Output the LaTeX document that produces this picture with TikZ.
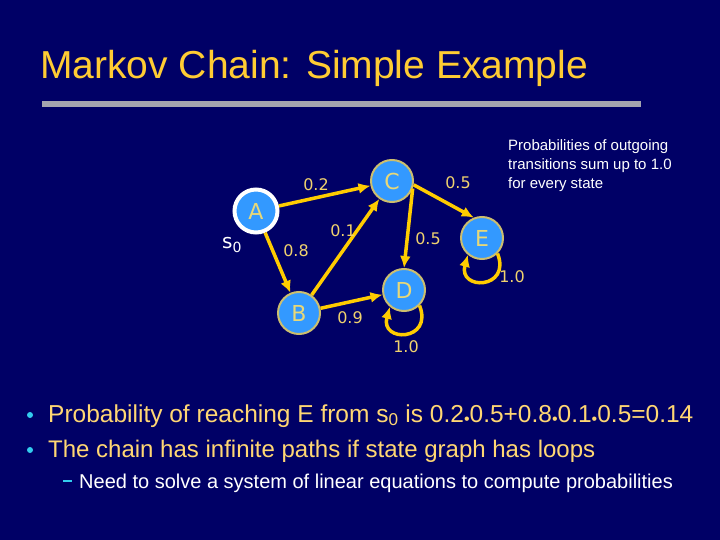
\documentclass[tikz,border=0pt]{standalone}
\usepackage{fontspec}
\setmainfont{Liberation Sans}
\newfontfamily\vfont{DejaVu Sans}
\usetikzlibrary{arrows.meta}
\definecolor{slidebg}{RGB}{0,0,102}
\definecolor{titlec}{RGB}{255,204,51}
\definecolor{barc}{RGB}{165,165,175}
\definecolor{bultxt}{RGB}{255,215,115}
\definecolor{dotc}{RGB}{51,204,238}
\definecolor{statefill}{RGB}{51,153,255}
\definecolor{statebd}{RGB}{204,190,110}
\definecolor{statetxt}{RGB}{232,216,120}
\definecolor{arrowc}{RGB}{255,204,0}
\definecolor{probtxt}{RGB}{240,210,110}
\tikzset{
  state/.style={circle,draw=statebd,fill=statefill,line width=2pt,minimum size=42pt,
    inner sep=0pt,text=statetxt,font=\vfont\fontsize{22}{22}\selectfont},
  trans/.style={-{Latex[length=12pt,width=11pt]},draw=arrowc,line width=3.5pt},
  prob/.style={text=probtxt,font=\vfont\fontsize{16}{16}\selectfont,inner sep=0pt}
}
\newcommand{\bdot}{\raisebox{-2pt}{\fontsize{16}{16}\selectfont•}}
\begin{document}
\begin{tikzpicture}[x=1pt,y=-1pt]
\fill[slidebg] (0,0) rectangle (720,540);
% title and bar
\node[anchor=base west,inner sep=0pt,text=titlec,font=\fontsize{39}{46}\selectfont] (title) at (40,79) {Markov Chain: Simple Example};
\fill[barc] (42,101) rectangle (641,107);
% states
\node[state] (C) at (392,181) {C};
\node[state] (E) at (482,238) {E};
\node[state] (D) at (404,290) {D};
\node[state] (B) at (299,313) {B};
\node[state,draw=white,line width=4pt,minimum size=43pt] (A) at (256,211) {A};
\node[text=white,font=\vfont\fontsize{20}{20}\selectfont,inner sep=0pt] (s0) at (232,245) {s\textsubscript{0}};
% transitions
\draw[trans] (A) -- (C);
\draw[trans] (A) -- (B);
\draw[trans] (B) -- (C);
\draw[trans] (B) -- (D);
\draw[trans] (C.-20) -- (D.north);
\draw[trans] (C.-10) -- (E.112);
\draw[trans] (D.-45) .. controls +(14,36) and +(-10,36) .. (D.-130);
\draw[trans] (E.-45) .. controls +(14,36) and +(-10,36) .. (E.-130);
% probabilities
\node[prob] (pAC) at (316,185) {0.2};
\node[prob] (pAB) at (296,251) {0.8};
\node[prob] (pBC) at (343,231) {0.1};
\node[prob] (pCE) at (458,183) {0.5};
\node[prob] (pCD) at (428,239) {0.5};
\node[prob] (pBD) at (350,318) {0.9};
\node[prob] (pDD) at (406,347) {1.0};
\node[prob] (pEE) at (512,277) {1.0};
% note
\node[anchor=north west,inner sep=0pt,text=white,align=left,
  font=\fontsize{15}{19}\selectfont] (note) at (508,139)
  {Probabilities of outgoing\\transitions sum up to 1.0\\for every state};
% bullets
\fill[dotc] (30,415) circle (3pt);
\fill[dotc] (30,450) circle (3pt);
\draw[dotc,line width=1.5pt] (63,481) -- (72,481);
\node[anchor=base west,inner sep=0pt,text=bultxt,font=\fontsize{24.5}{28}\selectfont] (b1) at (48,422)
  {Probability of reaching E from s\textsubscript{0} is 0.2\bdot0.5+0.8\bdot0.1\bdot0.5=0.14};
\node[anchor=base west,inner sep=0pt,text=bultxt,font=\fontsize{24}{28}\selectfont] (b2) at (48,457)
  {The chain has infinite paths if state graph has loops};
\node[anchor=base west,inner sep=0pt,text=white,font=\fontsize{20}{24}\selectfont] (b3) at (79,488)
  {Need to solve a system of linear equations to compute probabilities};
\end{tikzpicture}
\end{document}
